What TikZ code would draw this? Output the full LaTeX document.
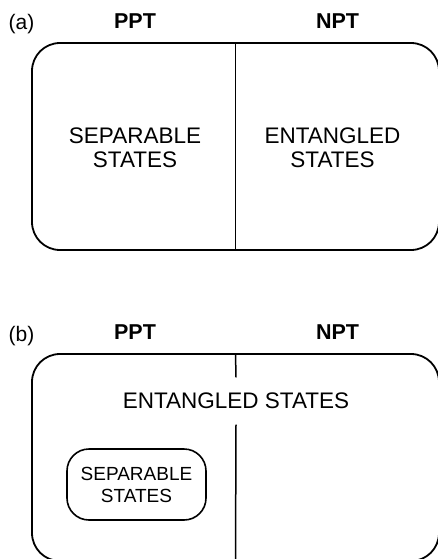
\documentclass[tikz,border=0pt]{standalone}
\usepackage{fontspec}
\setmainfont{Liberation Sans}
\usepackage{tikz}
\usetikzlibrary{shapes,calc}
\tikzstyle{region} = [draw, rectangle, line width=1.8pt, rounded corners=28pt, minimum width=407pt, minimum height=207pt, inner sep=0pt]
\tikzstyle{subregion} = [draw, rectangle, line width=1.6pt, rounded corners=22pt, minimum width=139pt, minimum height=71pt, inner sep=0pt, align=center, font=\fontsize{19}{22}\selectfont]
\tikzstyle{states} = [align=center, inner sep=0pt, font=\fontsize{22.5}{24}\selectfont]
\tikzstyle{head} = [anchor=base, inner sep=0pt, font=\fontsize{21.5}{24}\selectfont\bfseries]
\tikzstyle{tag} = [anchor=base, inner sep=0pt, font=\fontsize{21}{24}\selectfont]
\tikzstyle{line} = [draw, line width=1.5pt]

\begin{document}
\begin{tikzpicture}[x=1pt, y=-1pt]
        \useasboundingbox (0,0) rectangle (438,559);
        % (a)
        \node[tag] (taga) at (21.5,30) {(a)};
        \node[head] (ppta) at (135,28.5) {PPT};
        \node[head] (npta) at (337.5,28.5) {NPT};
        \node[region] (boxa) at (235.5,146.5) {};
        \node[states] (sepa) at (135,147.5) {SEPARABLE\\STATES};
        \node[states] (enta) at (332.5,147.5) {ENTANGLED\\STATES};
        \path[line] (boxa.north) -- (boxa.south);
        % (b)
        \node[tag] (tagb) at (21.5,341) {(b)};
        \node[head] (pptb) at (135,339.5) {PPT};
        \node[head] (nptb) at (337.5,339.5) {NPT};
        \node[region] (boxb) at (235.5,457.5) {};
        \node[states, minimum height=47pt] (entb) at (236,401) {ENTANGLED STATES};
        \node[subregion] (sepb) at (136.5,484.5) {SEPARABLE\\STATES};
        \path[line] (boxb.north) -- (entb.north);
        \path[line] (entb.south) -- (boxb.south);
    \end{tikzpicture}
\end{document}
